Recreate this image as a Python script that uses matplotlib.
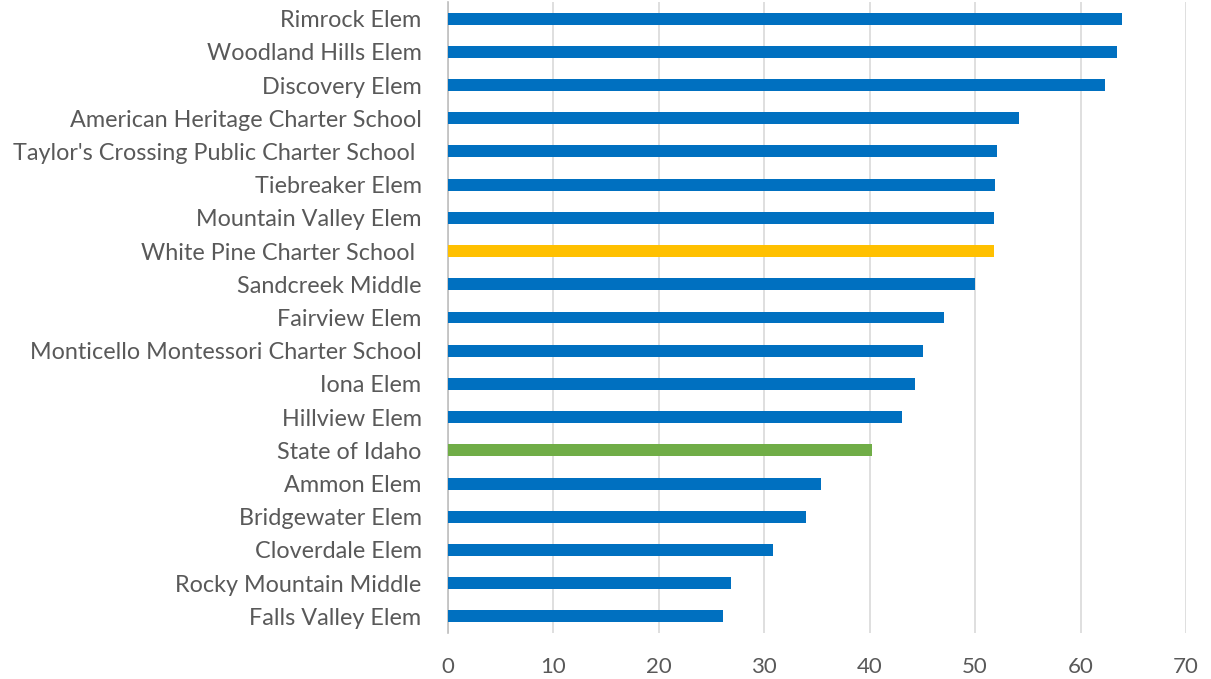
import numpy as np
import matplotlib.pyplot as plt

# Data (top to bottom as shown)
schools = ["Rimrock Elem", "Woodland Hills Elem", "Discovery Elem",
           "American Heritage Charter School",
           "Taylor's Crossing Public Charter School ",
           "Tiebreaker Elem", "Mountain Valley Elem",
           "White Pine Charter School ", "Sandcreek Middle", "Fairview Elem",
           "Monticello Montessori Charter School", "Iona Elem",
           "Hillview Elem", "State of Idaho", "Ammon Elem",
           "Bridgewater Elem", "Cloverdale Elem", "Rocky Mountain Middle",
           "Falls Valley Elem"]
scores = [63.9, 63.5, 62.3, 54.2, 52.1, 51.9, 51.8, 51.8, 50.0, 47.05,
          45.1, 44.3, 43.1, 40.25, 35.4, 34.0, 30.8, 26.8, 26.1]
x_ticks = [0, 10, 20, 30, 40, 50, 60, 70]

blue = "#0070C0"
colors = [blue] * len(schools)
colors[schools.index("White Pine Charter School ")] = "#FFC000"
colors[schools.index("State of Idaho")] = "#70AD47"

plt.rcParams['font.family'] = ['Lato', 'DejaVu Sans']

fig = plt.figure(figsize=(12.11, 6.79), dpi=100)
ax = fig.add_axes([448 / 1211, 1 - 633 / 679, (1186 - 448) / 1211, (633 - 2) / 679])

y = np.arange(len(schools))
ax.barh(y, scores, height=0.36, color=colors, zorder=3)

ax.set_ylim(len(schools) - 0.5, -0.5)
ax.set_xlim(0, 70)
ax.set_xticks(x_ticks)
ax.set_yticks(y)
ax.set_yticklabels(schools)

ax.grid(axis='x', color='#d9d9d9', linewidth=1.2, zorder=0)
for s in ['top', 'right', 'bottom']:
    ax.spines[s].set_visible(False)
ax.spines['left'].set_color('#bfbfbf')
ax.spines['left'].set_linewidth(1.2)

ax.tick_params(axis='y', length=0, pad=19, labelsize=16.8, labelcolor='#595959')
ax.tick_params(axis='x', length=0, pad=17, labelsize=16, labelcolor='#595959')

fig.savefig("out.png", dpi=100)
